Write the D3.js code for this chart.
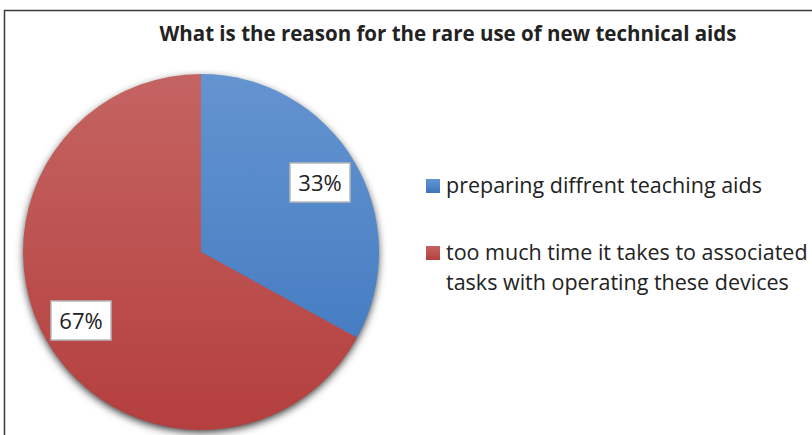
<!DOCTYPE html>
<html>
<head>
<meta charset="utf-8">
<script src="https://cdn.jsdelivr.net/npm/d3@7"></script>
<style>
  body { margin: 0; background: #fff; }
  svg { display: block; }
  text { font-family: "Open Sans", "Noto Sans", sans-serif; fill: #222; }
</style>
</head>
<body>
<svg id="chart" width="812" height="435"></svg>
<script>
// chart data
let title = "What is the reason for the rare use of new technical aids";
let categories = ["preparing diffrent teaching aids",
                  "too much time it takes to associated tasks with operating these devices"];
let legendLines = [["preparing diffrent teaching aids"],
                   ["too much time it takes to associated", "tasks with operating these devices"]];
let values = [33, 67];
let colors = [["#6494d0", "#3c76be"], ["#c46462", "#b43f3e"]];

let svg = d3.select("#chart");

// frame
svg.append("rect")
    .attr("x", 4.5).attr("y", 10.5)
    .attr("width", 830).attr("height", 440)
    .attr("fill", "none")
    .attr("stroke", "#3a3a3a")
    .attr("stroke-width", 1.5);

let defs = svg.append("defs");
let cx = 201, cy = 252, r = 178;

colors.forEach((c, i) => {
    let g = defs.append("linearGradient")
        .attr("id", "grad" + i)
        .attr("gradientUnits", "userSpaceOnUse")
        .attr("x1", 0).attr("y1", -r).attr("x2", 0).attr("y2", r);
    g.append("stop").attr("offset", "0%").attr("stop-color", c[0]);
    g.append("stop").attr("offset", "100%").attr("stop-color", c[1]);
    let lg = defs.append("linearGradient").attr("id", "lg" + i)
        .attr("x1", 0).attr("y1", 0).attr("x2", 0).attr("y2", 1);
    lg.append("stop").attr("offset", "0%").attr("stop-color", c[0]);
    lg.append("stop").attr("offset", "100%").attr("stop-color", c[1]);
});
let shadow = defs.append("filter").attr("id", "shadow")
    .attr("x", "-20%").attr("y", "-20%").attr("width", "140%").attr("height", "140%");
shadow.append("feDropShadow")
    .attr("dx", 0).attr("dy", 3)
    .attr("stdDeviation", 4)
    .attr("flood-color", "#000")
    .attr("flood-opacity", 0.85);

svg.append("text")
    .attr("x", 448).attr("y", 41)
    .attr("text-anchor", "middle")
    .attr("font-size", 20.5)
    .attr("font-weight", "bold")
    .text(title);

// pie
let pie = d3.pie().sort(null).value(d => d);
let arc = d3.arc().innerRadius(0).outerRadius(r);
let arcs = pie(values);

let g = svg.append("g").attr("transform", `translate(${cx},${cy})`);
g.append("circle").attr("r", r - 1).attr("fill", "#b84646").attr("filter", "url(#shadow)");

g.selectAll("path.slice")
    .data(arcs)
    .join("path")
    .attr("class", "slice")
    .attr("d", arc)
    .attr("fill", (d, i) => `url(#grad${i})`);

// data labels
let labelPos = [[320, 183], [81, 321]];
arcs.forEach((d, i) => {
    let lbl = g.append("g")
        .attr("transform", `translate(${labelPos[i][0] - cx},${labelPos[i][1] - cy})`);
    lbl.append("rect")
        .attr("x", -30).attr("y", -20)
        .attr("width", 60).attr("height", 39)
        .attr("fill", "#fff")
        .attr("stroke", "#b8b8b8")
        .attr("stroke-width", 1.5);
    lbl.append("text")
        .attr("text-anchor", "middle")
        .attr("y", 8)
        .attr("font-size", 22)
        .text(d3.format(".0f")(d.data) + "%");
});

// legend
let legendY = [186, 253];
let legend = svg.append("g");
legendLines.forEach((lines, i) => {
    legend.append("rect")
        .attr("x", 426).attr("y", legendY[i] - 7)
        .attr("width", 14).attr("height", 14)
        .attr("fill", `url(#lg${i})`);
    lines.forEach((t, j) => {
        legend.append("text")
            .attr("x", 446)
            .attr("y", legendY[i] + 7 + j * 30)
            .attr("font-size", 21.5)
            .text(t);
    });
});
</script>
</body>
</html>
